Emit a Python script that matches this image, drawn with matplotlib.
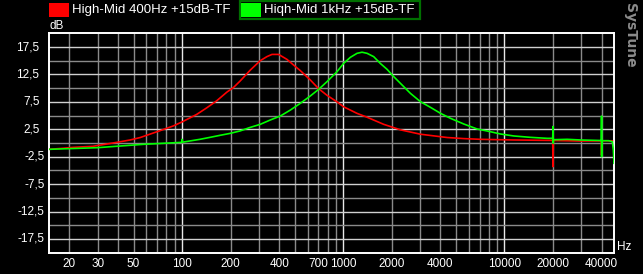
import numpy as np
import matplotlib
matplotlib.use('Agg')
import matplotlib.pyplot as plt
from matplotlib.patches import Rectangle
from matplotlib.transforms import blended_transform_factory

plt.rcParams['font.family'] = ['Liberation Sans Narrow', 'Liberation Sans', 'DejaVu Sans']

# series labels
names = ['High-Mid 400Hz +15dB-TF', 'Hiqh-Mid 1kHz +15dB-TF']

# red curve: 400 Hz peak (Hz, dB)
red_f = [15, 17.5, 21, 28, 39, 47.6, 55, 63, 73, 88, 100, 123, 142, 164, 190, 208, 229,
         265, 305, 336, 361, 397, 447, 492, 541, 624, 703, 792, 914, 1005, 1217, 1404,
         1782, 2261, 3011, 4407, 5594, 7100, 11436, 18420, 19900, 20000, 20100, 29670,
         39900, 40000, 40100, 46700]
red_db = [-1.15, -1.0, -0.8, -0.6, 0.1, 0.55, 1.0, 1.6, 2.25, 3.1, 3.85, 5.2, 6.4, 7.7, 9.3,
          10.1, 11.3, 13.3, 15.0, 15.75, 16.15, 16.15, 15.25, 14.2, 13.2, 11.5, 9.9, 8.7,
          7.5, 6.6, 5.4, 4.7, 3.4, 2.4, 1.6, 1.0, 0.8, 0.67, 0.55, 0.48, 0.48, -4.3, 0.45,
          0.36, 0.38, -2.2, 0.4, 0.4]

# green curve: 1 kHz peak (Hz, dB)
green_f = [15, 23, 30, 39, 57.6, 97, 99.5, 100, 100.5, 129, 149, 172, 199, 229, 265, 305,
           352, 407, 469, 541, 624, 703, 792, 914, 1005, 1106, 1217, 1307, 1404, 1544,
           1698, 1869, 2055, 2261, 2609, 3011, 3473, 4008, 4623, 5594, 6768, 7809, 9450,
           11436, 14514, 18420, 19900, 20000, 20050, 20150, 24510, 29670, 39900, 40000,
           40050, 40150, 44270, 46680, 47370, 47780]
green_db = [-1.15, -0.97, -0.85, -0.6, -0.24, 0.1, 0.12, 0.67, 0.15, 0.67, 1.03, 1.4, 1.76,
            2.2, 2.85, 3.4, 4.19, 4.92, 6.0, 7.23, 8.57, 9.78, 11.18, 13.0, 14.52, 15.62,
            16.35, 16.55, 16.35, 15.74, 14.5, 13.43, 12.1, 10.88, 9.05, 7.53, 6.5, 5.41,
            4.5, 3.46, 2.55, 2.19, 1.64, 1.28, 1.03, 0.85, 0.85, 3.0, -0.05, 0.6, 0.67,
            0.55, 0.45, 4.9, -2.5, 0.42, 0.42, 0.24, -1.28, -3.7]

xtick_vals = [20, 30, 50, 100, 200, 400, 700, 1000, 2000, 4000, 10000, 20000, 40000]
ytick_vals = [17.5, 12.5, 7.5, 2.5, -2.5, -7.5, -12.5, -17.5]

W, H = 643, 274
fig = plt.figure(figsize=(W / 100, H / 100), dpi=100, facecolor='black')
ax = fig.add_axes([49.3 / W, 1 - 252.7 / H, 565 / W, 219.4 / H], facecolor='black')
ax.set_xscale('log')
ax.set_xlim(15, 48000)
ax.set_ylim(-20, 20)

# grid, decades brighter
for dec in [10, 100, 1000, 10000]:
    for m in range(1, 10):
        f = dec * m
        if 15 < f < 48000:
            c = '#e8e8e8' if m == 1 else '#8a8a8a'
            ax.axvline(f, color=c, lw=1.0, zorder=1)
for k in range(-7, 8):
    yv = k * 2.5
    c = '#d0d0d0' if k % 2 else '#8a8a8a'
    ax.axhline(yv, color=c, lw=1.0, zorder=1)

ax.plot(red_f, red_db, color='#ff0000', lw=1.2, zorder=3)
ax.plot(green_f, green_db, color='#00ff00', lw=1.2, zorder=4)

for s in ax.spines.values():
    s.set_color('white')
    s.set_linewidth(1.4)

ax.set_xticks(xtick_vals)
ax.set_xticklabels([str(v) for v in xtick_vals])
ax.xaxis.set_minor_locator(matplotlib.ticker.NullLocator())
ax.tick_params(axis='x', length=0, pad=3.5, colors='white', labelsize=8.5)
ax.set_yticks([])

tr = blended_transform_factory(fig.transFigure, ax.transData)
for v in ytick_vals:
    xr = 39.5 if v > 0 else 44.5
    ax.text(xr / W, v, ('%.1f' % v).replace('.', ','), transform=tr, ha='right',
            va='center', color='white', fontsize=8.5)

fig.text(50 / W, 1 - 26 / H, 'dB', color='white', fontsize=8.5, va='center', ha='left')
fig.text(617 / W, 1 - 247 / H, 'Hz', color='white', fontsize=8.5, va='center', ha='left')

# legend
fig.patches.append(Rectangle((239.5 / W, 1 - 19 / H), 180 / W, 18 / H, transform=fig.transFigure,
                             facecolor='none', edgecolor='#007000', lw=1.6))
fig.patches.append(Rectangle((49 / W, 1 - 17 / H), 20 / W, 14 / H, transform=fig.transFigure,
                             facecolor='#ff0000', edgecolor='none'))
fig.patches.append(Rectangle((241 / W, 1 - 17 / H), 20 / W, 14 / H, transform=fig.transFigure,
                             facecolor='#00ff00', edgecolor='none'))
fig.text(72 / W, 1 - 10.5 / H, names[0], color='white', fontsize=9.5, va='center', ha='left')
fig.text(264 / W, 1 - 10.5 / H, names[1], color='white', fontsize=9.5, va='center', ha='left')

fig.text(630 / W, 1 - 3 / H, 'SysTune', color='#8c8c8c', fontsize=10, fontweight='bold',
         rotation=-90, ha='center', va='top', family='DejaVu Sans')

fig.savefig('out.png', dpi=100, facecolor='black')
